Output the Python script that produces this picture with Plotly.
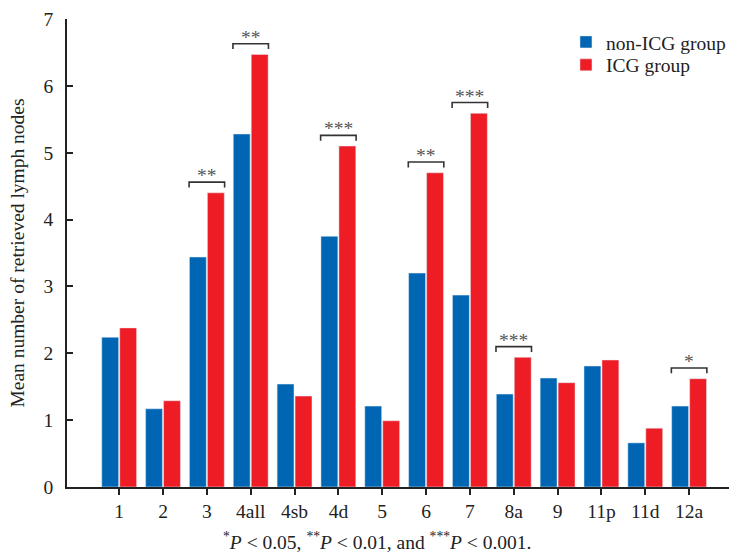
import plotly.graph_objects as go

categories = ["1", "2", "3", "4all", "4sb", "4d", "5", "6", "7", "8a", "9", "11p", "11d", "12a"]
non_icg = [2.24, 1.17, 3.44, 5.28, 1.54, 3.75, 1.21, 3.20, 2.87, 1.39, 1.63, 1.81, 0.66, 1.21]
icg = [2.38, 1.29, 4.40, 6.47, 1.36, 5.10, 0.99, 4.70, 5.59, 1.94, 1.56, 1.90, 0.88, 1.62]
sig_cats = ["3", "4all", "4d", "6", "7", "8a", "12a"]
sig_labels = ["**", "**", "***", "**", "***", "***", "*"]
y_ticks = [0, 1, 2, 3, 4, 5, 6, 7]

BLUE = "#0066B3"
RED = "#EE1C25"
FONT = "Liberation Serif"
FS = 19.5

fig = go.Figure()
fig.add_trace(go.Bar(name="non-ICG group", x=categories, y=non_icg, marker_color=BLUE,
                     legend="legend", showlegend=True))
fig.add_trace(go.Bar(name="ICG group", x=categories, y=icg, marker_color=RED,
                     legend="legend2", showlegend=True))

shapes = []
annotations = []
for cat, lab in zip(sig_cats, sig_labels):
    i = categories.index(cat)
    top = max(non_icg[i], icg[i]) + 0.16
    leg = top - 0.08
    shapes.append(dict(type="path", xref="x", yref="y",
                       path=f"M {i-0.405},{leg} L {i-0.405},{top} L {i+0.405},{top} L {i+0.405},{leg}",
                       line=dict(color="#333333", width=1.6)))
    annotations.append(dict(x=i, y=top, xref="x", yref="y", text=lab, showarrow=False,
                            yanchor="bottom", yshift=-6,
                            font=dict(family=FONT, size=FS, color="#555555")))

annotations.append(dict(x=0.469, y=-0.115, xref="paper", yref="paper", xanchor="center", yanchor="middle",
                        showarrow=False,
                        text="<sup>*</sup><i>P</i> &lt; 0.05, <sup>**</sup><i>P</i> &lt; 0.01, and <sup>***</sup><i>P</i> &lt; 0.001.",
                        font=dict(family=FONT, size=FS, color="#222222")))

legend_common = dict(xanchor="left", yanchor="top", bgcolor="rgba(0,0,0,0)", visible=True,
                     font=dict(family=FONT, size=FS, color="#222222"), itemwidth=30)

fig.update_layout(
    width=731, height=552,
    margin=dict(l=67, r=1, t=19, b=65),
    plot_bgcolor="white", paper_bgcolor="white",
    showlegend=True,
    barmode="group", bargap=0.18, bargroupgap=0.06,
    font=dict(family=FONT, size=FS, color="#222222"),
    shapes=shapes, annotations=annotations,
    legend=dict(x=0.7526, y=0.992, **legend_common),
    legend2=dict(x=0.7526, y=0.943, **legend_common),
    xaxis=dict(type="category", range=[-1.19, 13.91], showline=True, linecolor="#222222", linewidth=1.5,
               ticks="outside", ticklen=6, tickcolor="#222222", tickwidth=1.5, showgrid=False,
               tickfont=dict(family=FONT, size=FS, color="#222222")),
    yaxis=dict(range=[0, 7], tickvals=y_ticks, showline=True, linecolor="#222222", linewidth=1.5,
               ticks="inside", ticklen=6, tickcolor="#222222", tickwidth=1.5, showgrid=False, zeroline=False,
               ticklabelstandoff=8, automargin=False,
               tickfont=dict(family=FONT, size=FS, color="#222222"),
               title=dict(text="Mean number of retrieved lymph nodes", standoff=14,
                          font=dict(family=FONT, size=FS, color="#222222"))),
)

fig.write_html("out.html", config={"displayModeBar": False},
               post_script="document.body.style.margin='0';")
